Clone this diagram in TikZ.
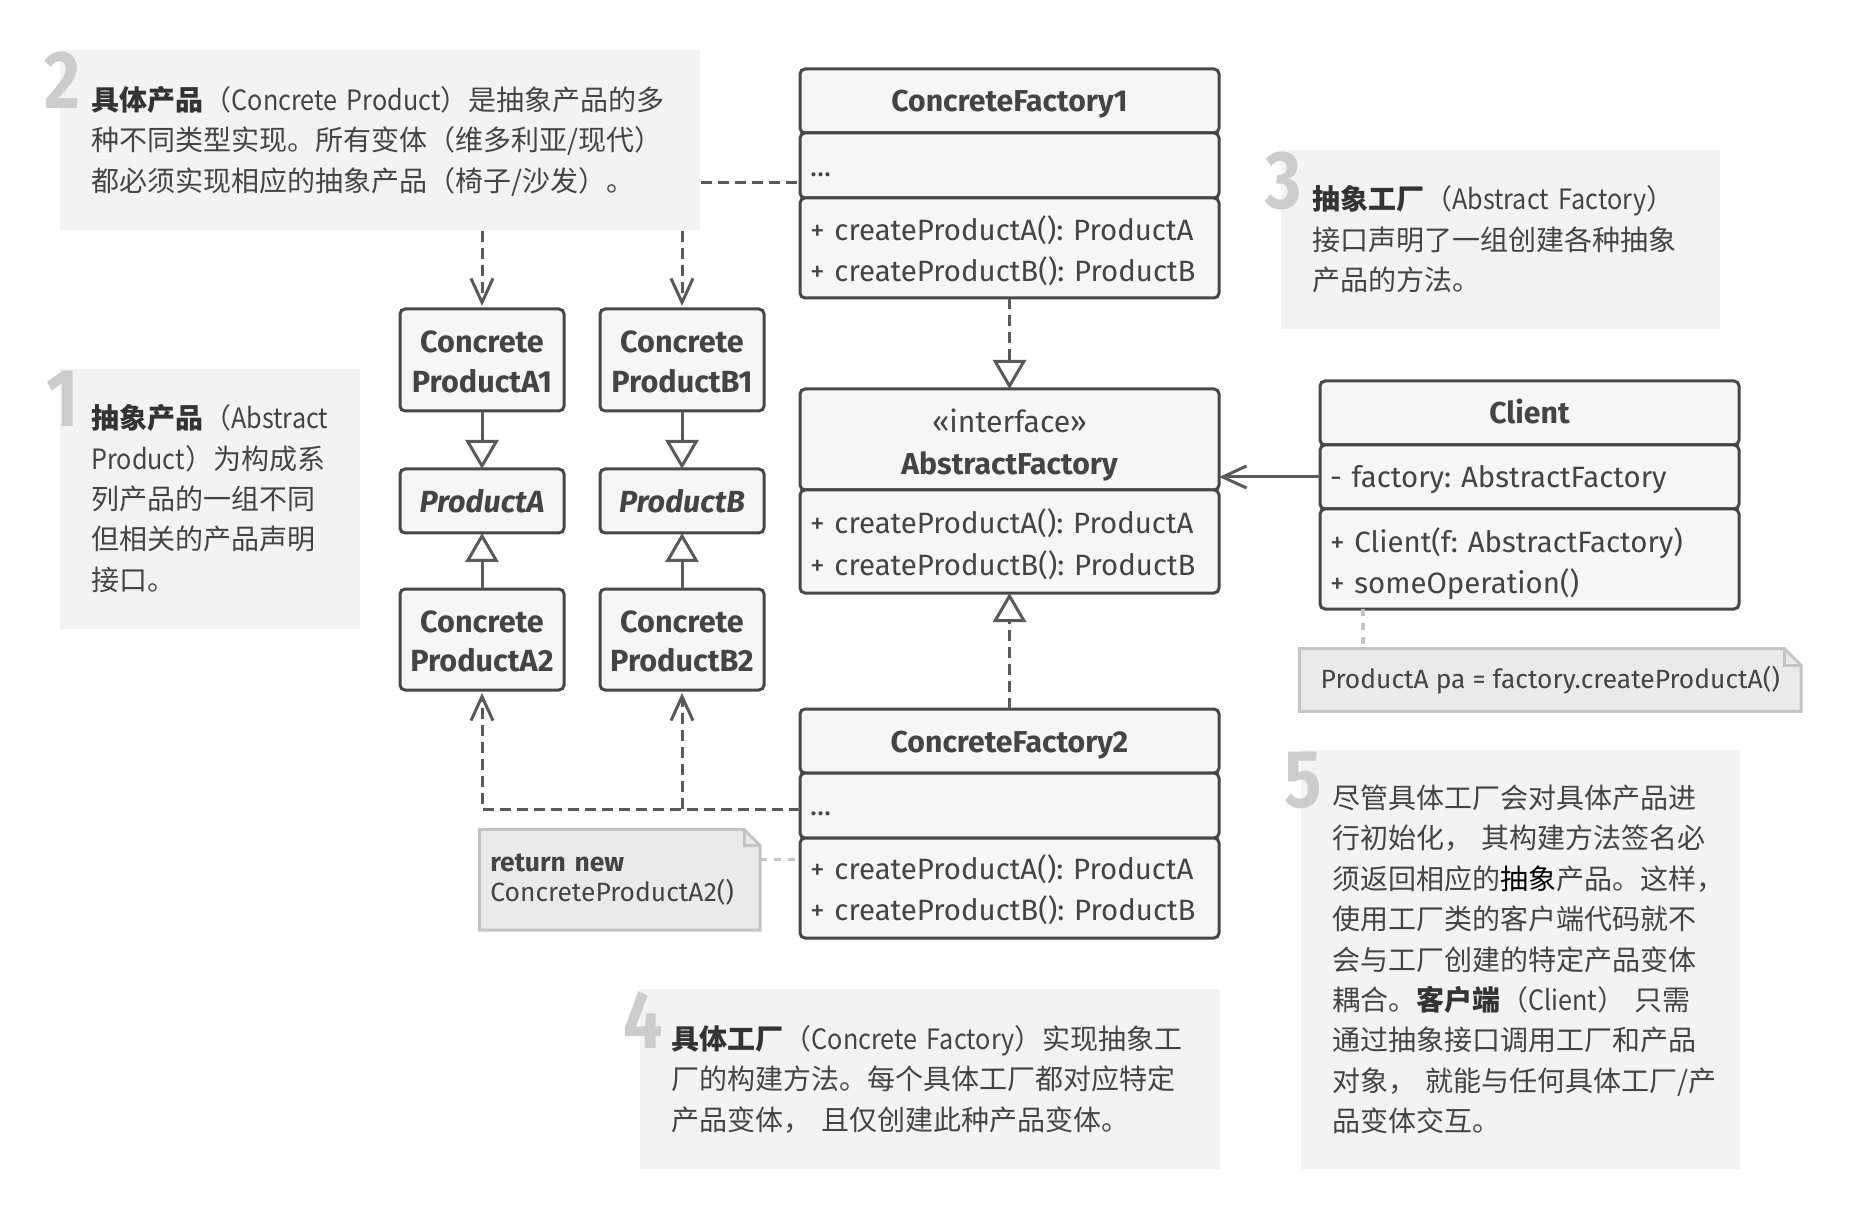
\documentclass[tikz,border=0pt]{standalone}
\usepackage{fontspec}
\setmainfont{Fira Sans}
\newfontfamily\cjk{Noto Sans CJK SC}
\newfontfamily\cjknarrow{Noto Sans CJK SC}[FakeStretch=0.9]
\newfontfamily\numfont{Fira Sans}[FakeStretch=0.85]
\usetikzlibrary{arrows.meta, positioning, backgrounds}

\definecolor{boxline}{HTML}{474747}
\definecolor{boxfill}{HTML}{F6F6F6}
\definecolor{txt}{HTML}{444444}
\definecolor{txtdark}{HTML}{333333}
\definecolor{wire}{HTML}{595959}
\definecolor{notebg}{HTML}{F3F3F3}
\definecolor{numgray}{HTML}{CCCCCC}
\definecolor{codebg}{HTML}{EAEAEA}
\definecolor{codeline}{HTML}{C4C4C4}

\newdimen\textdrop
\textdrop=1.2pt
\newcommand{\kw}[1]{{\bfseries\color{txtdark}#1}}
\newcommand{\en}[1]{{\cjknarrow#1}}
\newcommand{\topstrut}{\rule{0pt}{\dimexpr0.7\baselineskip+2\textdrop\relax}}
\newcommand{\botstrut}{\rule[-0.3\baselineskip]{0pt}{0pt}}
\newcommand{\notepaper}[2]{%
  \begin{scope}[on background layer]
    \draw[paper] (#1.north west) -- ([xshift=-#2]#1.north east) -- ([yshift=-#2]#1.north east)
      -- (#1.south east) -- (#1.south west) -- cycle;
  \end{scope}
  \draw[paper, fill=none] ([xshift=-#2]#1.north east) |- ([yshift=-#2]#1.north east);
}

\tikzset{
  sink/.code={\textdrop=#1\relax},
  classbox/.style={draw=boxline, fill=boxfill, line width=1.5pt, rounded corners=2.5pt,
    outer sep=0pt, inner ysep=0pt, text=txt,
    execute at begin node={\topstrut}, execute at end node={\botstrut}},
  classhead/.style={classbox, text width=199.5pt, inner xsep=5pt, align=center,
    font=\fontsize{15.1}{20.8}\selectfont\bfseries},
  classpart/.style={classbox, text width=199.5pt, inner xsep=5pt, align=left,
    font=\fontsize{14.7}{20.6}\selectfont},
  prodbox/.style={classbox, text width=78pt, inner xsep=2pt, align=center,
    font=\fontsize{15.3}{19.8}\selectfont\bfseries},
  notebox/.style={fill=notebg, anchor=north west, inner xsep=15.7pt, inner ysep=0pt,
    align=left, text=txt, font=\cjk\fontsize{14}{20.2}\selectfont,
    execute at begin node={\hyphenpenalty=10000\exhyphenpenalty=10000\topstrut},
    execute at end node={\botstrut}},
  stepnum/.style={anchor=north, inner sep=0pt, text=numgray,
    font=\numfont\bfseries\fontsize{41}{41}\selectfont},
  codenote/.style={anchor=north west, inner ysep=0pt, text=txt,
    font=\fontsize{13.2}{14.8}\selectfont},
  paper/.style={fill=codebg, draw=codeline, line width=1.5pt},
  solidwire/.style={draw=wire, line width=1.5pt},
  dep/.style={draw=wire, line width=1.5pt, dash pattern=on 5.5pt off 3pt},
  link/.style={draw=codeline, line width=1.7pt, dash pattern=on 3.5pt off 3.5pt},
  openv/.style={-{Straight Barb[length=12pt, width=11pt]}, shorten >=1.5pt},
  gen/.style={-{Triangle[open, fill=white, length=14.5pt, width=16.5pt]}},
}

\begin{document}
\frenchspacing
\begin{tikzpicture}[x=1pt, y=-1pt]
  \useasboundingbox (0,0) rectangle (933,609);

  % Notes
  \node[notebox, text width=288.6pt, minimum height=90pt] (note2) at (30,25)
    {\kw{具体产品}（\en{Concrete~Product}）是抽象产品的多\\种不同类型实现。所有变体（维多利亚/现代）\\都必须实现相应的抽象产品（椅子/沙发）。};
  \node[notebox, text width=118.6pt, minimum height=129.7pt] (note1) at (29.75,184.5)
    {\kw{抽象产品}（\en{Abstract}\\\en{Product}）为构成系\\列产品的一组不同\\但相关的产品声明\\接口。};
  \node[notebox, text width=188.2pt, minimum height=89.2pt] (note3) at (640.2,75)
    {\kw{抽象工厂}（\en{Abstract~Factory}）\\接口声明了一组创建各种抽象\\产品的方法。};
  \node[notebox, text width=258.6pt, minimum height=90pt] (note4) at (320,494.4)
    {\kw{具体工厂}（\en{Concrete~Factory}）实现抽象工\\厂的构建方法。每个具体工厂都对应特定\\产品变体，~且仅创建此种产品变体。};
  \node[notebox, text width=188pt, minimum height=209.4pt] (note5) at (650.3,374.9)
    {尽管具体工厂会对具体产品进\\行初始化，~其构建方法签名必\\须返回相应的{\color{black}抽象}产品。这样，\\使用工厂类的客户端代码就不\\会与工厂创建的特定产品变体\\耦合。\kw{客户端}（\en{Client}）~只需\\通过抽象接口调用工厂和产品\\对象，~就能与任何具体工厂/产\\品变体交互。};

  % Step numbers
  \node[stepnum] (num1) at ([xshift=1.5pt, yshift=-1pt]note1.north west) {1};
  \node[stepnum] (num2) at ([xshift=1.5pt, yshift=-1pt]note2.north west) {2};
  \node[stepnum] (num3) at ([xshift=1.5pt, yshift=-1pt]note3.north west) {3};
  \node[stepnum] (num4) at ([xshift=1.5pt, yshift=-1pt]note4.north west) {4};
  \node[stepnum] (num5) at ([xshift=1.5pt, yshift=-1pt]note5.north west) {5};

  % Factories
  \node[classhead, minimum height=32pt, anchor=north west] (cf1) at (400,34.5) {ConcreteFactory1};
  \node[classpart, sink=1.5pt, minimum height=32.5pt, below=0pt of cf1] (cf1attr) {...};
  \node[classpart, sink=2.4pt, minimum height=50pt, below=0pt of cf1attr] (cf1ops)
    {+ createProductA(): ProductA\\+ createProductB(): ProductB};

  \node[classhead, sink=2.7pt, minimum height=50.5pt, anchor=north west] (af) at (400,194.5)
    {{\mdseries «interface»}\\AbstractFactory};
  \node[classpart, sink=2.4pt, minimum height=51.5pt, below=0pt of af] (afops)
    {+ createProductA(): ProductA\\+ createProductB(): ProductB};

  \node[classhead, sink=1.6pt, minimum height=32pt, anchor=north west] (cf2) at (400,354.5) {ConcreteFactory2};
  \node[classpart, sink=1pt, minimum height=32.5pt, below=0pt of cf2] (cf2attr) {...};
  \node[classpart, sink=2pt, minimum height=50pt, below=0pt of cf2attr] (cf2ops)
    {+ createProductA(): ProductA\\+ createProductB(): ProductB};

  % Client
  \node[classhead, minimum height=32pt, anchor=north west] (cli) at (660,190.5) {Client};
  \node[classpart, minimum height=32pt, below=0pt of cli] (cliattr) {- factory: AbstractFactory};
  \node[classpart, sink=3pt, minimum height=50pt, below=0pt of cliattr] (cliops)
    {+ Client(f: AbstractFactory)\\+ someOperation()};

  % Products
  \node[prodbox, sink=2.3pt, minimum height=51pt, anchor=north west] (cpa1) at (200,154.5) {Concrete\\ProductA1};
  \node[prodbox, sink=1.8pt, minimum height=32pt, anchor=north west] (pa) at (200,234.5) {\itshape ProductA};
  \node[prodbox, sink=2.2pt, minimum height=50.5pt, anchor=north west] (cpa2) at (200,294.5) {Concrete\\ProductA2};
  \node[prodbox, sink=2.3pt, minimum height=51pt, anchor=north west] (cpb1) at (300,154.5) {Concrete\\ProductB1};
  \node[prodbox, sink=1.8pt, minimum height=32pt, anchor=north west] (pb) at (300,234.5) {\itshape ProductB};
  \node[prodbox, sink=2.2pt, minimum height=50.5pt, anchor=north west] (cpb2) at (300,294.5) {Concrete\\ProductB2};

  % Code notes
  \node[codenote, minimum width=250.5pt, minimum height=31pt, inner xsep=0pt, align=center] (clinote)
    at (649.7,324.3) {ProductA pa = factory.createProductA()};
  \node[codenote, text width=129.4pt, inner xsep=5.2pt, minimum height=50pt, align=left] (retnote)
    at (239.8,414.7) {\textbf{return new}\\ConcreteProductA2()};
  \notepaper{clinote}{8.5pt}
  \notepaper{retnote}{8pt}

  % Connectors
  \draw[dep] (note2.east |- 0,91.5) -- (cf1attr.west |- 0,91.5);
  \draw[dep, openv] (note2.south -| cpa1.north) -- (cpa1.north);
  \draw[dep, openv] (note2.south -| cpb1.north) -- (cpb1.north);
  \draw[solidwire, gen] (cpa1.south) -- (pa.north);
  \draw[solidwire, gen] (cpb1.south) -- (pb.north);
  \draw[solidwire, gen] (cpa2.north) -- (pa.south);
  \draw[solidwire, gen] (cpb2.north) -- (pb.south);
  \draw[dep, gen] (cf1ops.south) -- (af.north);
  \draw[dep, gen] (cf2.north) -- (afops.south);
  \draw[solidwire, openv, shorten >=0pt] (cliattr.west) -- (af.east |- cliattr.west);
  \coordinate (cf2tap) at (cf2attr.west |- 0,404.6);
  \draw[dep, openv] (cf2tap) -| (cpa2.south);
  \draw[dep, openv] (cf2tap -| cpb2.south) -- (cpb2.south);
  \draw[link] (retnote.east |- 0,429.6) -- (cf2ops.west |- 0,429.6);
  \draw[link] (cliops.south -| 681.5,0) -- (clinote.north -| 681.5,0);
\end{tikzpicture}
\end{document}
